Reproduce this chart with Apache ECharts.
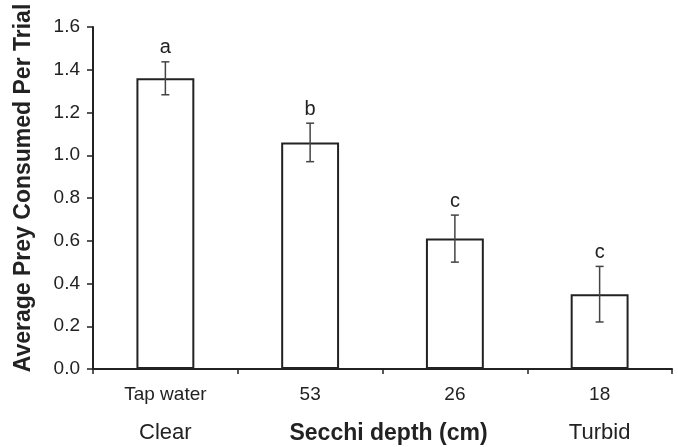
<!DOCTYPE html>
<html>
<head>
<meta charset="utf-8">
<script src="https://cdn.jsdelivr.net/npm/echarts@6/dist/echarts.min.js"></script>
<style>html,body{margin:0;padding:0;background:#fff}#c{width:678px;height:447px}</style>
</head>
<body>
<div id="c"></div>
<script>
var categories = ['Tap water', '53', '26', '18'];
var clarityLabels = ['Clear', '', '', 'Turbid'];
var means = [1.36, 1.06, 0.61, 0.35];
var errors = [0.077, 0.09, 0.11, 0.13];
var letters = ['a', 'b', 'c', 'c'];
var yTicks = [0, 0.2, 0.4, 0.6, 0.8, 1.0, 1.2, 1.4, 1.6];

var FONT = 'Liberation Sans, Arial, sans-serif';
var TXT = '#222';

var chart = echarts.init(document.getElementById('c'), null, {renderer: 'canvas'});

var errData = means.map(function (m, i) { return [i, m, errors[i], letters[i]]; });

chart.setOption({
  animation: false,
  backgroundColor: '#fff',
  grid: {left: 93, right: 6, top: 27, bottom: 78, containLabel: false, outerBoundsMode: 'none'},
  xAxis: [{
    type: 'category',
    data: categories,
    position: 'bottom',
    axisLine: {lineStyle: {color: TXT, width: 2}},
    axisTick: {show: true, length: 5, lineStyle: {color: TXT, width: 1.5}},
    axisLabel: {color: TXT, fontFamily: FONT, fontSize: 19, margin: 16}
  }, {
    type: 'category',
    data: clarityLabels,
    position: 'bottom',
    axisLine: {show: false},
    axisTick: {show: false},
    axisLabel: {color: TXT, fontFamily: FONT, fontSize: 22, margin: 53, interval: 0},
    name: 'Secchi depth (cm)',
    nameLocation: 'middle',
    nameGap: 53,
    nameMoveOverlap: false,
    nameTextStyle: {color: TXT, fontFamily: FONT, fontSize: 23, fontWeight: 'bold', padding: [0, 0, 0, 12]}
  }],
  yAxis: {
    type: 'value',
    min: 0,
    max: 1.6,
    interval: 0.2,
    name: 'Average Prey Consumed Per Trial',
    nameLocation: 'middle',
    nameGap: 58,
    nameRotate: 90,
    nameMoveOverlap: false,
    nameTextStyle: {color: TXT, fontFamily: FONT, fontSize: 23, fontWeight: 'bold', padding: [0, 0, 0, 20]},
    axisLine: {show: true, lineStyle: {color: TXT, width: 2}},
    axisTick: {show: true, length: 6, lineStyle: {color: TXT, width: 1.5}},
    splitLine: {show: false},
    axisLabel: {
      color: TXT, fontFamily: FONT, fontSize: 19, margin: 13,
      formatter: function (v) { return v.toFixed(1); }
    }
  },
  series: [{
    type: 'bar',
    data: means,
    barWidth: '40%',
    itemStyle: {color: '#fff', borderColor: '#222', borderWidth: 2},
    silent: true
  }, {
    type: 'custom',
    data: errData,
    z: 10,
    renderItem: function (params, api) {
      var i = api.value(0), m = api.value(1), e = api.value(2);
      var top = api.coord([i, m + e]);
      var bot = api.coord([i, m - e]);
      var x = top[0];
      var hw = 4;
      var st = {stroke: '#444', lineWidth: 1.5};
      return {
        type: 'group',
        children: [
          {type: 'line', shape: {x1: x, y1: top[1], x2: x, y2: bot[1]}, style: st},
          {type: 'line', shape: {x1: x - hw, y1: top[1], x2: x + hw, y2: top[1]}, style: st},
          {type: 'line', shape: {x1: x - hw, y1: bot[1], x2: x + hw, y2: bot[1]}, style: st},
          {type: 'text', style: {
            text: letters[params.dataIndex], x: x, y: top[1] - 4,
            textAlign: 'center', textVerticalAlign: 'bottom',
            fill: TXT, font: '20px ' + FONT
          }}
        ]
      };
    }
  }]
});
</script>
</body>
</html>
